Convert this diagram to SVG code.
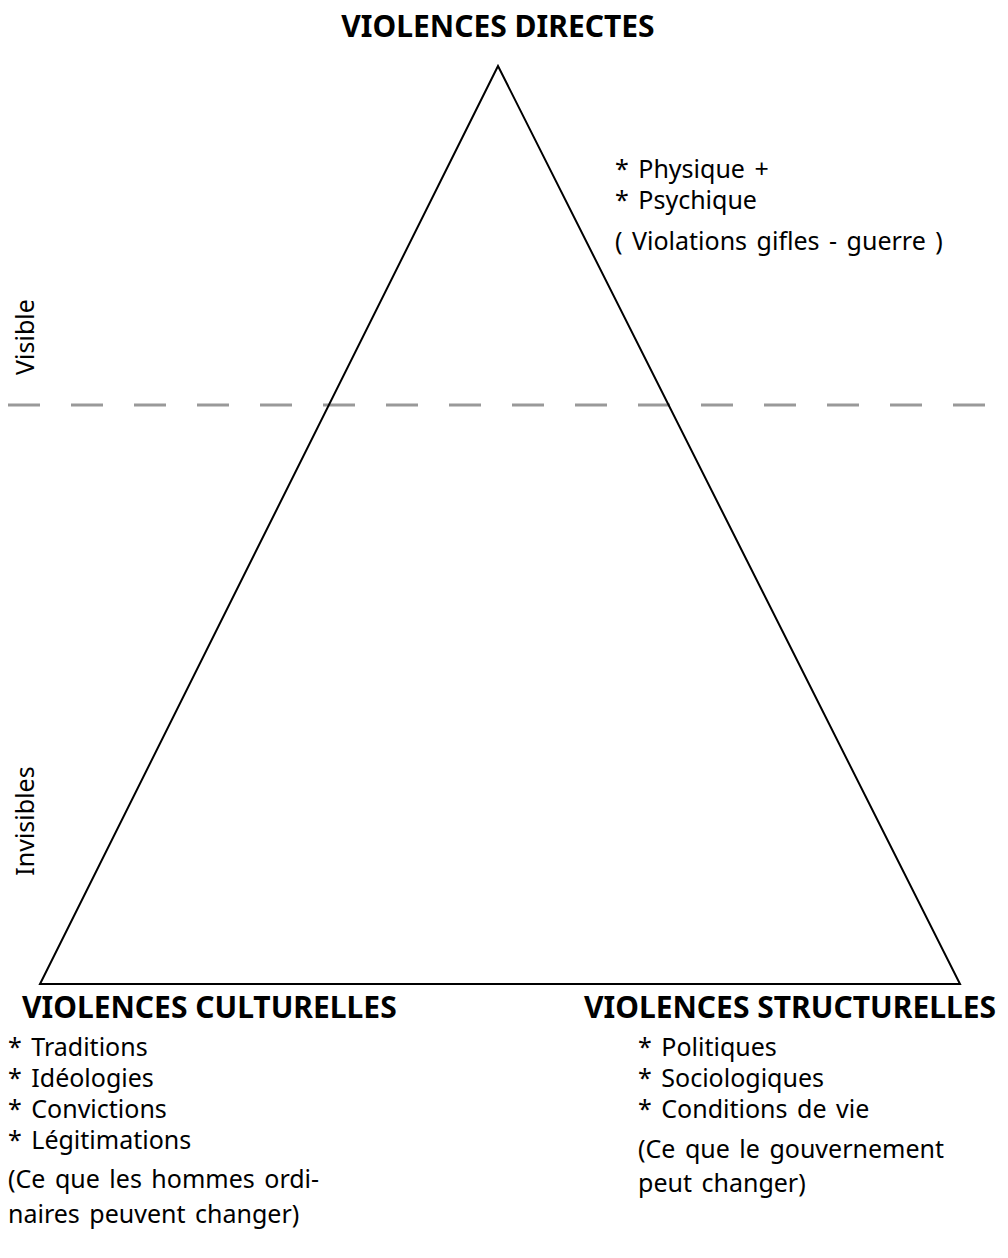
<svg xmlns="http://www.w3.org/2000/svg" width="1008" height="1258" viewBox="0 0 1008 1258">
<style>
text{font-family:"Noto Sans","DejaVu Sans",sans-serif;fill:#000}
.t{font-size:30px;font-weight:bold}
.b{font-size:25px;word-spacing:3px}
</style>
<rect width="1008" height="1258" fill="#fff"/>
<g id="connectors">
<line x1="8" y1="405" x2="992" y2="405" stroke="#999" stroke-width="3" stroke-dasharray="32 31"/>
</g>
<g id="triangle">
<polygon points="498,66 40,984 960,984" fill="none" stroke="#000" stroke-width="2"/>
</g>
<g id="side-labels">
<text class="b" text-anchor="middle" transform="translate(34,337) rotate(-90)">Visible</text>
<text class="b" text-anchor="middle" transform="translate(34,821) rotate(-90)">Invisibles</text>
</g>
<g id="directes">
<text class="t" x="498" y="37" text-anchor="middle">VIOLENCES DIRECTES</text>
<text class="b" x="615" y="178">* Physique +</text>
<text class="b" x="615" y="209">* Psychique</text>
<text class="b" x="615" y="250">( Violations gifles - guerre )</text>
</g>
<g id="culturelles">
<text class="t" x="22" y="1018">VIOLENCES CULTURELLES</text>
<text class="b" x="8" y="1056">* Traditions</text>
<text class="b" x="8" y="1087">* Idéologies</text>
<text class="b" x="8" y="1118">* Convictions</text>
<text class="b" x="8" y="1149">* Légitimations</text>
<text class="b" x="8" y="1188">(Ce que les hommes ordi-</text>
<text class="b" x="8" y="1223">naires peuvent changer)</text>
</g>
<g id="structurelles">
<text class="t" x="584" y="1018">VIOLENCES STRUCTURELLES</text>
<text class="b" x="638" y="1056">* Politiques</text>
<text class="b" x="638" y="1087">* Sociologiques</text>
<text class="b" x="638" y="1118">* Conditions de vie</text>
<text class="b" x="638" y="1158">(Ce que le gouvernement</text>
<text class="b" x="638" y="1192">peut changer)</text>
</g>
</svg>
